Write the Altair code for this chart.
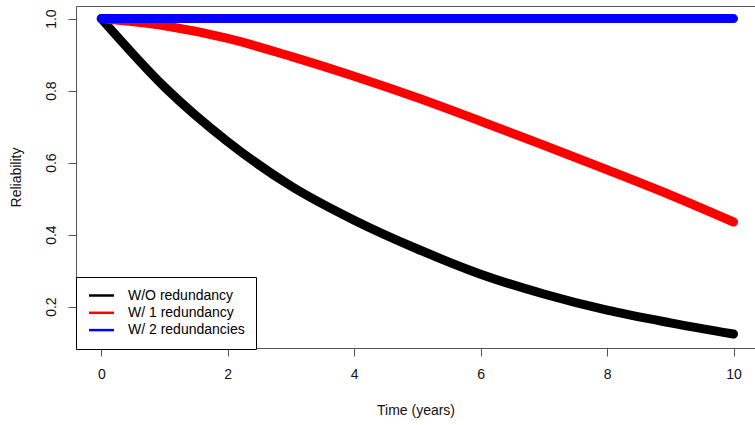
import altair as alt
import pandas as pd

time = [0, 1, 2, 3, 4, 5, 6, 7, 8, 9, 10]
wo_redundancy = [1.0, 0.81, 0.658, 0.535, 0.44, 0.36, 0.29, 0.235, 0.19, 0.155, 0.124]
w1_redundancy = [1.0, 0.98, 0.945, 0.895, 0.84, 0.78, 0.715, 0.648, 0.58, 0.51, 0.435]
w2_redundancies = [1.0, 1.0, 1.0, 1.0, 1.0, 1.0, 1.0, 1.0, 1.0, 1.0, 1.0]

series_names = ["W/O redundancy", "W/ 1 redundancy", "W/ 2 redundancies"]
series_colors = ["#000000", "#ff0000", "#0000ff"]
x_ticks = [0, 2, 4, 6, 8, 10]
y_ticks = [0.2, 0.4, 0.6, 0.8, 1.0]

FONT = "Liberation Sans"
FS = 14

frames = []
for name, vals in zip(series_names, [wo_redundancy, w1_redundancy, w2_redundancies]):
    frames.append(pd.DataFrame({"time": time, "reliability": vals, "series": name}))

x_enc = alt.X(
    "time:Q",
    scale=alt.Scale(domain=[-0.4, 10.34], nice=False, zero=False),
    axis=alt.Axis(
        values=x_ticks, title="Time (years)", grid=False, domain=False,
        tickSize=8, tickColor="#555555", labelPadding=11, labelFontSize=FS,
        labelFont=FONT, labelColor="#111111", labelFlush=False,
        titleFont=FONT, titleFontSize=FS, titleFontWeight="normal",
        titleY=62, titleBaseline="middle", titleColor="#111111",
    ),
)
y_enc = alt.Y(
    "reliability:Q",
    scale=alt.Scale(domain=[0.085, 1.035], nice=False, zero=False),
    axis=alt.Axis(
        values=y_ticks, format=".1f", title="Reliability", grid=False, domain=False,
        tickSize=8, tickColor="#555555", labelPadding=13, labelFontSize=FS,
        labelFont=FONT, labelColor="#111111", labelAngle=270, labelAlign="center",
        labelBaseline="alphabetic", labelFlush=False,
        titleFont=FONT, titleFontSize=FS, titleFontWeight="normal",
        titleAngle=270, titleX=-60, titleY=171, titleAlign="center",
        titleBaseline="middle", titleColor="#111111",
    ),
)
color_enc = alt.Color(
    "series:N",
    scale=alt.Scale(domain=series_names, range=series_colors),
    legend=alt.Legend(
        orient="none", legendX=0, legendY=271, title=None,
        symbolType="M-2,0H2", symbolSize=156, symbolStrokeWidth=2.5,
        symbolOffset=7,
        labelFontSize=FS, labelFont=FONT, labelColor="#000000",
        padding=11, rowPadding=2.3, labelOffset=19,
        strokeColor="#000000", fillColor="white",
    ),
)

layers = []
for df in frames:
    layers.append(
        alt.Chart(df)
        .mark_line(strokeWidth=9, strokeCap="round", strokeJoin="round", interpolate="monotone")
        .encode(x=x_enc, y=y_enc, color=color_enc)
    )

chart = (
    alt.layer(*layers)
    .properties(
        width=679, height=342, autosize="none",
        padding={"left": 76, "top": 6, "right": 0, "bottom": 77},
        background="white",
    )
    .configure_view(stroke="#555555", strokeWidth=1)
)

chart.save("out.html", embed_options={"renderer": "svg", "actions": False})
